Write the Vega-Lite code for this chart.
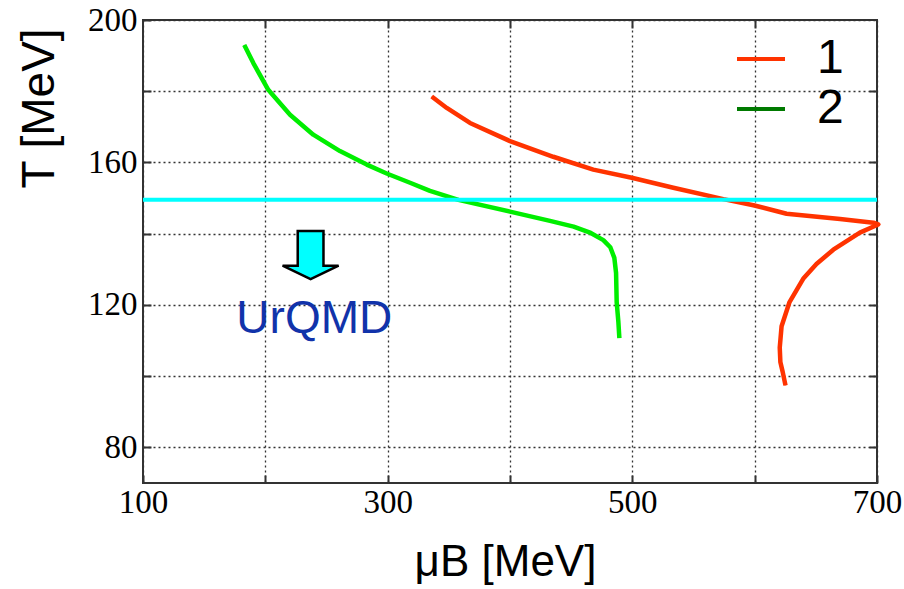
{
  "$schema": "https://vega.github.io/schema/vega-lite/v6.json",
  "autosize": "none",
  "padding": {"left": 143, "top": 20, "right": 27, "bottom": 106},
  "width": 734,
  "height": 463,
  "background": "white",
  "datasets": {
    "curves": [
      {"series": "1", "i": 1, "mu": 336.0, "T": 178.5},
      {"series": "1", "i": 2, "mu": 348.3, "T": 175.3},
      {"series": "1", "i": 3, "mu": 367.3, "T": 171.1},
      {"series": "1", "i": 4, "mu": 400.0, "T": 166.0},
      {"series": "1", "i": 5, "mu": 435.4, "T": 161.6},
      {"series": "1", "i": 6, "mu": 468.1, "T": 158.0},
      {"series": "1", "i": 7, "mu": 499.5, "T": 155.7},
      {"series": "1", "i": 8, "mu": 533.5, "T": 152.9},
      {"series": "1", "i": 9, "mu": 574.4, "T": 149.7},
      {"series": "1", "i": 10, "mu": 599.0, "T": 148.0},
      {"series": "1", "i": 11, "mu": 626.1, "T": 145.6},
      {"series": "1", "i": 12, "mu": 669.8, "T": 144.1},
      {"series": "1", "i": 13, "mu": 697.0, "T": 143.1},
      {"series": "1", "i": 14, "mu": 701.0, "T": 142.6},
      {"series": "1", "i": 15, "mu": 686.0, "T": 140.3},
      {"series": "1", "i": 16, "mu": 664.3, "T": 135.5},
      {"series": "1", "i": 17, "mu": 650.5, "T": 131.5},
      {"series": "1", "i": 18, "mu": 640.0, "T": 127.5},
      {"series": "1", "i": 19, "mu": 628.5, "T": 120.8},
      {"series": "1", "i": 20, "mu": 622.0, "T": 114.0},
      {"series": "1", "i": 21, "mu": 620.5, "T": 108.0},
      {"series": "1", "i": 22, "mu": 621.0, "T": 104.0},
      {"series": "1", "i": 23, "mu": 622.9, "T": 101.2},
      {"series": "1", "i": 24, "mu": 625.2, "T": 97.4},
      {"series": "2", "i": 1, "mu": 182.8, "T": 193.0},
      {"series": "2", "i": 2, "mu": 190.2, "T": 187.9},
      {"series": "2", "i": 3, "mu": 202.4, "T": 180.4},
      {"series": "2", "i": 4, "mu": 220.2, "T": 173.4},
      {"series": "2", "i": 5, "mu": 239.2, "T": 167.8},
      {"series": "2", "i": 6, "mu": 261.0, "T": 163.2},
      {"series": "2", "i": 7, "mu": 282.9, "T": 159.4},
      {"series": "2", "i": 8, "mu": 299.2, "T": 156.9},
      {"series": "2", "i": 9, "mu": 318.3, "T": 154.3},
      {"series": "2", "i": 10, "mu": 334.6, "T": 152.0},
      {"series": "2", "i": 11, "mu": 357.8, "T": 149.5},
      {"series": "2", "i": 12, "mu": 400.0, "T": 146.2},
      {"series": "2", "i": 13, "mu": 432.7, "T": 143.6},
      {"series": "2", "i": 14, "mu": 452.0, "T": 142.0},
      {"series": "2", "i": 15, "mu": 466.0, "T": 140.2},
      {"series": "2", "i": 16, "mu": 476.3, "T": 138.2},
      {"series": "2", "i": 17, "mu": 482.0, "T": 136.2},
      {"series": "2", "i": 18, "mu": 485.3, "T": 133.2},
      {"series": "2", "i": 19, "mu": 486.7, "T": 129.0},
      {"series": "2", "i": 20, "mu": 487.2, "T": 120.8},
      {"series": "2", "i": 21, "mu": 488.6, "T": 115.2},
      {"series": "2", "i": 22, "mu": 489.4, "T": 110.7}
    ],
    "one": [{"k": 1}]
  },
  "config": {
    "view": {"stroke": "#333333", "strokeWidth": 2},
    "axis": {
      "grid": false,
      "gridColor": "#333333",
      "gridDash": [2, 3],
      "gridWidth": 1.3,
      "gridOpacity": 1,
      "ticks": true,
      "tickColor": "#333333",
      "tickWidth": 2,
      "tickSize": -8,
      "domain": false,
      "labelFont": "Liberation Serif",
      "labelFontSize": 33,
      "labelColor": "#000000",
      "labelFlush": false,
      "labelOverlap": false,
      "titleFont": "Liberation Sans",
      "titleFontWeight": "normal",
      "titleColor": "#000000"
    }
  },
  "resolve": {"axis": {"x": "independent", "y": "independent"}},
  "layer": [
    {
      "data": {"name": "curves"},
      "mark": {"type": "line", "strokeWidth": 2},
      "encoding": {
        "x": {
          "field": "mu", "type": "quantitative",
          "scale": {"domain": [100, 700], "nice": false, "zero": false},
          "axis": {
            "orient": "bottom",
            "grid": true,
            "values": [100, 200, 300, 400, 500, 600, 700],
            "labelExpr": "(datum.value - 100) % 200 == 0 ? datum.label : ''",
            "labelPadding": 11,
            "title": "μB [MeV]",
            "titleFontSize": 44,
            "titleX": 362,
            "titleY": 92,
            "titleAlign": "center",
            "titleBaseline": "alphabetic"
          }
        },
        "y": {
          "field": "T", "type": "quantitative",
          "scale": {"domain": [70, 200], "nice": false, "zero": false},
          "axis": {
            "orient": "left",
            "grid": true,
            "values": [80, 100, 120, 140, 160, 180, 200],
            "labelExpr": "datum.value % 40 == 0 ? datum.label : ''",
            "labelPadding": 14,
            "title": "T [MeV]",
            "titleFontSize": 46,
            "titleAngle": -90,
            "titleX": -90,
            "titleY": 88,
            "titleAlign": "center",
            "titleBaseline": "alphabetic"
          }
        },
        "color": {
          "field": "series", "type": "nominal",
          "scale": {"domain": ["1", "2"], "range": ["#ff3300", "#007a00"]},
          "legend": {
            "title": null,
            "orient": "none",
            "legendX": 592,
            "legendY": 13,
            "padding": 0,
            "symbolType": "stroke",
            "symbolSize": 2304,
            "symbolStrokeWidth": 4,
            "symbolOpacity": 1,
            "labelFont": "Liberation Sans",
            "labelFontSize": 48,
            "labelColor": "#000000",
            "labelOffset": 30,
            "rowPadding": 0
          }
        },
        "order": {"field": "i", "type": "quantitative"}
      }
    },
    {
      "data": {"name": "curves"},
      "mark": {"type": "line", "strokeWidth": 4.5, "strokeJoin": "round", "strokeCap": "butt"},
      "encoding": {
        "x": {"field": "mu", "type": "quantitative", "axis": null},
        "y": {"field": "T", "type": "quantitative", "axis": null},
        "stroke": {
          "field": "series", "type": "nominal",
          "scale": {"domain": ["1", "2"], "range": ["#ff3300", "#00ee00"]},
          "legend": null
        },
        "order": {"field": "i", "type": "quantitative"}
      }
    },
    {
      "data": {"name": "one"},
      "mark": {"type": "rule", "color": "#00ffff", "strokeWidth": 4},
      "encoding": {"y": {"datum": 149.5, "axis": null}}
    },
    {
      "data": {"name": "one"},
      "mark": {
        "type": "point",
        "shape": "M-0.46,-0.86 L0.46,-0.86 L0.46,0.38 L1,0.38 L0,0.86 L-1,0.38 L-0.46,0.38 Z",
        "filled": true,
        "fill": "#00ffff",
        "stroke": "#000000",
        "strokeWidth": 2.5,
        "opacity": 1,
        "size": 3136
      },
      "encoding": {"x": {"datum": 237, "axis": null}, "y": {"datum": 134, "axis": null}}
    },
    {
      "data": {"name": "one"},
      "mark": {
        "type": "text",
        "text": "UrQMD",
        "font": "Liberation Sans",
        "fontSize": 46,
        "color": "#1133aa",
        "align": "center",
        "baseline": "alphabetic"
      },
      "encoding": {"x": {"datum": 240, "axis": null}, "y": {"datum": 112, "axis": null}}
    },
    {
      "data": {"name": "one"},
      "mark": {"type": "point", "opacity": 0},
      "encoding": {
        "x": {"datum": 400, "type": "quantitative", "axis": {"orient": "top", "values": [200, 300, 400, 500, 600], "labels": false, "title": null}},
        "y": {"datum": 150, "type": "quantitative", "axis": {"orient": "right", "values": [80, 100, 120, 140, 160, 180], "labels": false, "title": null}}
      }
    }
  ]
}
